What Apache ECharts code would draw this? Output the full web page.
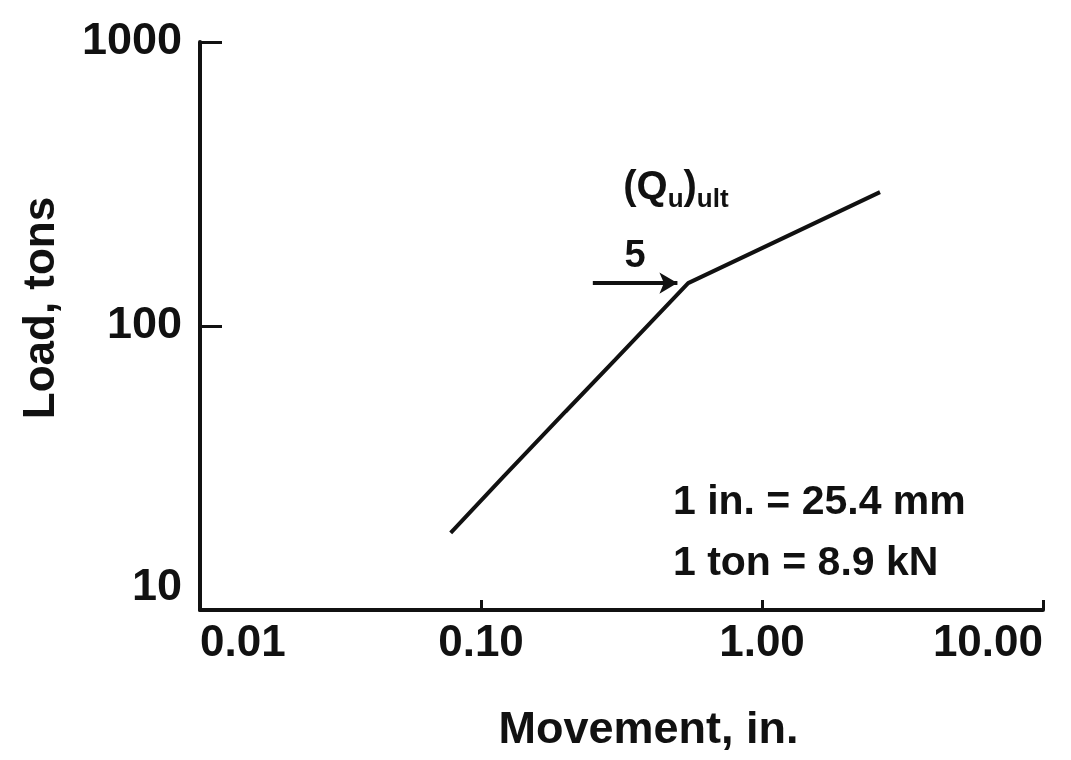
<!DOCTYPE html>
<html>
<head>
<meta charset="utf-8">
<script src="https://cdn.jsdelivr.net/npm/echarts@6/dist/echarts.min.js"></script>
<style>
html,body{margin:0;padding:0;background:#fff;}
#chart{width:1071px;height:760px;}
</style>
</head>
<body>
<div id="chart"></div>
<script>
// Data
const movement = [0.078, 0.12, 0.2, 0.3, 0.546, 1.0, 2.63];   // in.
const load     = [18.7, 29.4, 50, 76, 141.6, 188, 296];        // tons
const xTicks = [0.01, 0.1, 1, 10];
const yTicks = [10, 100, 1000];
const xAxisTitle = 'Movement, in.';
const yAxisTitle = 'Load, tons';
const unitLines = ['1 in. = 25.4 mm', '1 ton = 8.9 kN'];
// annotation anchors in data units
const arrowFrom = [0.25, 141.6];
const arrowTo   = [0.5, 141.6];
const arrowLabel = '5';
const quAnchor = [0.494, 306];
const unitsAnchor = [[0.482, 23.8], [0.482, 14.6]];

const FONT = '"Liberation Sans", Arial, sans-serif';
const INK = '#111';

const chart = echarts.init(document.getElementById('chart'));
const option = {
  animation: false,
  backgroundColor: '#fff',
  grid: { left: 200, right: 28, top: 42, bottom: 150 },
  xAxis: {
    type: 'log', logBase: 10, min: xTicks[0], max: xTicks[xTicks.length-1],
    name: xAxisTitle, nameLocation: 'middle', nameGap: 98,
    nameTextStyle: { fontFamily: FONT, fontWeight: 'bold', fontSize: 45, color: INK, padding: [0,0,0,54] },
    axisLine: { lineStyle: { color: INK, width: 4 } },
    axisTick: { show: true, inside: true, length: 10, lineStyle: { color: INK, width: 3 } },
    minorTick: { show: false },
    splitLine: { show: false },
    axisLabel: {
      fontFamily: FONT, fontWeight: 'bold', fontSize: 44, color: INK, margin: 12,
      alignMinLabel: 'left', alignMaxLabel: 'right',
      formatter: v => Number(v).toFixed(2)
    }
  },
  yAxis: {
    type: 'log', logBase: 10, min: yTicks[0], max: yTicks[yTicks.length-1],
    name: yAxisTitle, nameLocation: 'middle', nameGap: 136,
    nameTextStyle: { fontFamily: FONT, fontWeight: 'bold', fontSize: 44, color: INK, padding: [0,0,0,36] },
    axisLine: { lineStyle: { color: INK, width: 4 } },
    axisTick: { show: true, inside: true, length: 22, lineStyle: { color: INK, width: 3 } },
    splitLine: { show: false },
    axisLabel: {
      fontFamily: FONT, fontWeight: 'bold', fontSize: 45, color: INK, margin: 18,
      verticalAlignMinLabel: 'bottom',
      formatter: v => String(Math.round(v))
    }
  },
  series: [
    {
      type: 'line',
      data: movement.map((x, i) => [x, load[i]]),
      symbol: 'none',
      lineStyle: { color: INK, width: 4 },
      z: 3
    },
    {
      type: 'scatter',
      symbolSize: 0,
      silent: true,
      itemStyle: { opacity: 1, color: INK },
      data: [
        { value: quAnchor, label: { show: true, formatter: '{b|(Q}{s|u}{b|)}{s|ult}', position: 'inside' } },
        { value: unitsAnchor[0], label: { show: true, formatter: unitLines[0], position: 'right', distance: 0 } },
        { value: unitsAnchor[1], label: { show: true, formatter: unitLines[1], position: 'right', distance: 0 } }
      ],
      label: {
        fontFamily: FONT, fontWeight: 'bold', color: INK, fontSize: 41,
        rich: {
          b: { fontFamily: FONT, fontWeight: 'bold', fontSize: 40, color: INK },
          s: { fontFamily: FONT, fontWeight: 'bold', fontSize: 26, color: INK, padding: [24,0,0,0] }
        }
      },
      markLine: {
        silent: true,
        symbol: ['none', 'arrow'],
        symbolSize: [16, 18],
        lineStyle: { color: INK, width: 4, type: 'solid', opacity: 1 },
        label: { show: true, position: 'middle', formatter: arrowLabel, fontFamily: FONT, fontWeight: 'bold', fontSize: 38, color: INK, distance: 8 },
        data: [[{ coord: arrowFrom }, { coord: arrowTo }]]
      }
    }
  ]
};
chart.setOption(option);
</script>
</body>
</html>
